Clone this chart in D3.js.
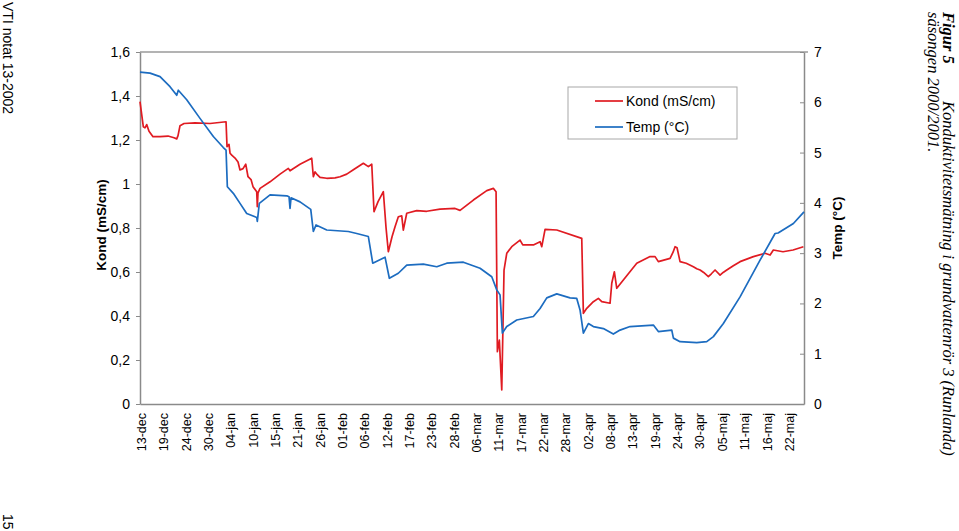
<!DOCTYPE html>
<html><head><meta charset="utf-8">
<script src="https://cdn.jsdelivr.net/npm/d3@7"></script>
<style>body{margin:0;background:#fff}svg{display:block;background:#fff}</style>
</head><body>
<svg id="c" width="959" height="531"></svg>
<script>
// Day offsets from 13-dec-2000, conductivity (mS/cm)
const kondSeries = [[-0.25,1.374],[0.57,1.26],[0.98,1.255],[1.40,1.27],[1.97,1.24],[2.95,1.215],[4.68,1.215],[6.65,1.218],[8.12,1.21],[8.79,1.205],[9.11,1.22],[9.60,1.265],[10.59,1.275],[13.29,1.278],[16.99,1.275],[20.93,1.283],[21.17,1.17],[21.66,1.18],[21.91,1.14],[22.40,1.13],[23.14,1.118],[23.88,1.10],[24.37,1.064],[25.11,1.07],[25.78,1.09],[26.34,1.033],[27.08,1.02],[27.57,0.988],[28.48,0.965],[28.63,0.897],[28.80,0.96],[29.30,0.98],[31.76,1.01],[34.22,1.045],[36.26,1.071],[36.68,1.06],[39.14,1.09],[42.02,1.117],[42.42,1.033],[42.84,1.055],[43.25,1.045],[44.07,1.03],[45.72,1.026],[47.76,1.028],[48.99,1.033],[50.64,1.045],[52.27,1.065],[54.73,1.094],[55.96,1.079],[56.80,1.09],[57.36,0.874],[58.35,0.92],[59.65,0.965],[60.32,0.80],[60.88,0.692],[61.79,0.76],[62.53,0.806],[63.34,0.851],[64.18,0.855],[64.57,0.79],[65.41,0.867],[67.87,0.879],[70.33,0.876],[73.61,0.886],[77.30,0.889],[78.53,0.88],[81.81,0.927],[85.11,0.97],[86.73,0.98],[87.40,0.965],[87.72,0.238],[88.21,0.29],[88.80,0.064],[89.36,0.609],[90.03,0.685],[91.26,0.715],[93.30,0.745],[93.97,0.723],[96.58,0.723],[98.23,0.738],[98.65,0.715],[99.46,0.794],[102.34,0.791],[108.49,0.753],[108.89,0.412],[109.72,0.435],[111.35,0.465],[112.58,0.48],[113.42,0.465],[115.46,0.458],[115.88,0.549],[116.52,0.601],[117.11,0.526],[118.73,0.564],[122.03,0.64],[125.31,0.67],[126.54,0.67],[127.35,0.647],[130.23,0.662],[130.97,0.69],[131.46,0.715],[131.95,0.71],[132.69,0.647],[134.2,0.64],[135.97,0.624],[136.8,0.615],[137.62,0.609],[138.5,0.598],[139.66,0.579],[140.4,0.592],[141.31,0.609],[142.54,0.586],[143.3,0.598],[144.19,0.609],[145.8,0.628],[147.46,0.647],[150.74,0.67],[153.62,0.685],[154.85,0.677],[155.66,0.70],[158.03,0.692],[160.5,0.70],[163.05,0.715]];

// Day offsets from 13-dec-2000, temperature (°C)
const tempSeries = [[-0.25,6.60],[2.22,6.58],[4.68,6.51],[7.14,6.31],[8.79,6.14],[9.18,6.24],[11.25,6.05],[14.52,5.68],[17.80,5.32],[20.26,5.10],[20.93,5.05],[21.25,4.32],[22.72,4.19],[24.37,3.99],[26.02,3.79],[28.48,3.71],[28.63,3.63],[29.12,3.99],[31.76,4.16],[35.87,4.14],[36.44,4.12],[36.68,3.89],[36.93,4.10],[39.14,4.02],[41.78,3.87],[42.42,3.43],[43.08,3.56],[45.72,3.46],[51.03,3.43],[53.10,3.39],[55.96,3.33],[57.04,2.80],[60.07,2.92],[61.13,2.50],[63.34,2.60],[65.41,2.76],[69.5,2.78],[72.80,2.73],[75.26,2.80],[79.35,2.82],[83.46,2.70],[86.34,2.53],[87.57,2.27],[88.38,2.17],[88.95,1.41],[90.03,1.54],[92.49,1.67],[96.58,1.74],[98.23,1.90],[99.88,2.11],[102.34,2.19],[105.61,2.11],[107.26,2.10],[108.07,1.87],[108.89,1.41],[110.12,1.60],[111.35,1.54],[113.81,1.50],[116.27,1.39],[117.92,1.47],[120.38,1.54],[126.12,1.57],[127.35,1.44],[130.65,1.47],[131.05,1.31],[132.69,1.24],[136.80,1.22],[139.26,1.24],[140.89,1.34],[143.35,1.60],[147.46,2.13],[152.38,2.86],[156.08,3.39],[156.82,3.40],[160.59,3.59],[163.2,3.82]];

const xTickLabels = ["13-dec","19-dec","24-dec","30-dec","04-jan","10-jan","15-jan","21-jan","26-jan","01-feb","06-feb","12-feb","17-feb","23-feb","28-feb","06-mar","11-mar","17-mar","22-mar","28-mar","02-apr","08-apr","13-apr","19-apr","24-apr","30-apr","05-maj","11-maj","16-maj","22-maj"];
const xTickDays = [0,5.5,11,16.5,22,27.5,33,38.5,44,49.5,55,60.5,66,71.5,77,82.5,88,93.5,99,104.5,110,115.5,121,126.5,132,137.5,143,148.5,154,159.5];
const kondTicks = [0,0.2,0.4,0.6,0.8,1,1.2,1.4,1.6];
const kondTickLabels = ["0","0,2","0,4","0,6","0,8","1","1,2","1,4","1,6"];
const tempTicks = [0,1,2,3,4,5,6,7];
const seriesNames = ["Kond (mS/cm)","Temp (°C)"];

const FONT = "'Liberation Sans', Arial, sans-serif";
const SERIF = "'Liberation Serif', 'Times New Roman', serif";
const RED = "#e01b22", BLUE = "#1c6cc0";
const svg = d3.select("#c");
const plot = {left:140, right:804, top:52, bottom:404};

const x = d3.scaleLinear().domain([-0.25,163.2]).range([plot.left, plot.right]);
const yL = d3.scaleLinear().domain([0,1.6]).range([plot.bottom, plot.top]);
const yR = d3.scaleLinear().domain([0,7]).range([plot.bottom, plot.top]);

// top frame
svg.append("line").attr("x1",plot.left).attr("x2",plot.right+4).attr("y1",plot.top).attr("y2",plot.top)
  .attr("stroke","#9a9a9a").attr("stroke-width",1.5);

// left axis
const gL = svg.append("g").attr("transform",`translate(${plot.left},0)`)
  .call(d3.axisLeft(yL).tickValues(kondTicks).tickFormat((d,i)=>kondTickLabels[i]).tickSizeInner(4).tickSizeOuter(0).tickPadding(6));
// right axis
const gR = svg.append("g").attr("transform",`translate(${plot.right},0)`)
  .call(d3.axisRight(yR).tickValues(tempTicks).tickFormat(d3.format("d")).tickSizeInner(-4).tickSizeOuter(0).tickPadding(10));
// bottom axis
const gB = svg.append("g").attr("transform",`translate(0,${plot.bottom})`)
  .call(d3.axisBottom(x).tickValues(xTickDays).tickFormat((d,i)=>xTickLabels[i]).tickSize(0).tickSizeOuter(0));
gB.selectAll("text").attr("transform","rotate(-90)").attr("text-anchor","end")
  .attr("x",-9).attr("y",0).attr("dy","0.35em").style("font-size","12.5px");

[gL,gR,gB].forEach(g=>{
  g.selectAll("text").style("font-family",FONT).attr("fill","#000");
  g.select(".domain").attr("stroke","#8a8a8a").attr("stroke-width",1.5);
  g.selectAll(".tick line").attr("stroke","#8a8a8a");
});
gL.selectAll("text").style("font-size","14px");
gR.selectAll("text").style("font-size","14px");

// lines
const lineL = d3.line().x(d=>x(d[0])).y(d=>yL(d[1]));
const lineR = d3.line().x(d=>x(d[0])).y(d=>yR(d[1]));
svg.append("path").datum(kondSeries).attr("d",lineL).attr("fill","none").attr("stroke",RED).attr("stroke-width",1.7).attr("stroke-linejoin","round");
svg.append("path").datum(tempSeries).attr("d",lineR).attr("fill","none").attr("stroke",BLUE).attr("stroke-width",1.7).attr("stroke-linejoin","round");

// axis titles
svg.append("text").attr("transform","translate(106,225) rotate(-90)").attr("text-anchor","middle")
  .style("font-family",FONT).style("font-weight","bold").style("font-size","13.5px").text("Kond (mS/cm)");
svg.append("text").attr("transform","translate(842,228) rotate(-90)").attr("text-anchor","middle")
  .style("font-family",FONT).style("font-weight","bold").style("font-size","13.5px").text("Temp (°C)");

// legend
const lg = svg.append("g");
lg.append("rect").attr("x",568).attr("y",87).attr("width",169).attr("height",52)
  .attr("fill","#fff").attr("stroke","#a8a8a8").attr("stroke-width",1);
[RED,BLUE].forEach((c,i)=>{
  const yy = 101 + i*26;
  lg.append("line").attr("x1",595).attr("x2",623).attr("y1",yy).attr("y2",yy).attr("stroke",c).attr("stroke-width",1.7);
  lg.append("text").attr("x",626).attr("y",yy).attr("dy","0.35em").style("font-family",FONT).style("font-size","14px").text(seriesNames[i]);
});

// page texts (rotated page)
svg.append("text").attr("transform","translate(3,2) rotate(90)").style("font-family",FONT)
  .style("font-size","14px").text("VTI notat 13-2002");
svg.append("text").attr("transform","translate(3,514) rotate(90)").style("font-family",FONT)
  .style("font-size","14px").text("15");

const cap1 = svg.append("text").attr("transform","translate(943,12) rotate(90)").style("font-family",SERIF).style("font-size","16.5px");
cap1.append("tspan").style("font-weight","bold").style("font-style","italic").text("Figur 5");
cap1.append("tspan").attr("x",89).style("font-style","italic").text("Konduktivitetsmätning i grundvattenrör 3 (Runlanda)");
svg.append("text").attr("transform","translate(928,12) rotate(90)").style("font-family",SERIF).style("font-size","16.5px")
  .style("font-style","italic").text("säsongen 2000/2001.");
</script>
</body></html>
